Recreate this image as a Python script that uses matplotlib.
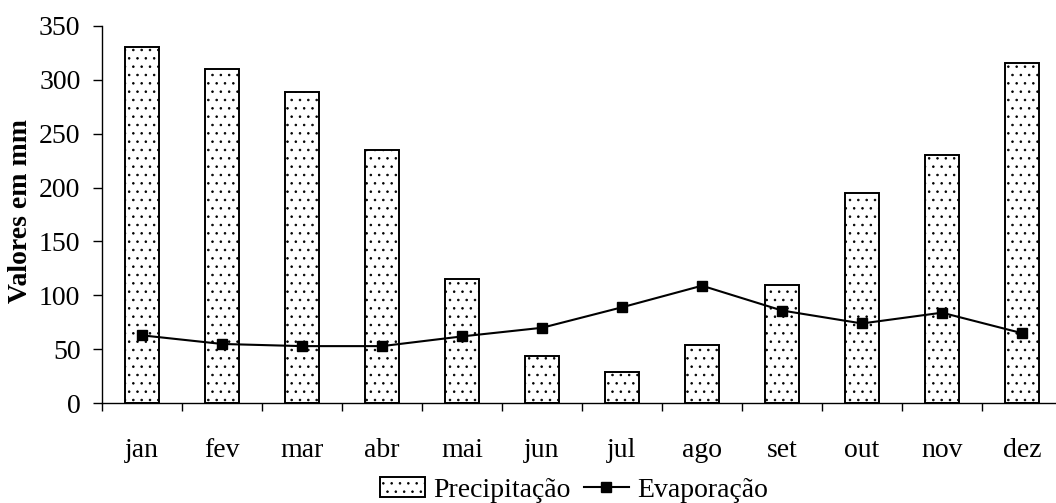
import matplotlib
matplotlib.use("Agg")
import matplotlib.pyplot as plt
import numpy as np

months = ["jan", "fev", "mar", "abr", "mai", "jun", "jul", "ago", "set", "out", "nov", "dez"]
precipitacao = [330, 310, 289, 235, 115, 44, 29, 54, 110, 195, 230, 315]
evaporacao = [63, 55, 53, 53, 62, 70, 89, 109, 86, 74, 84, 65]
yticks = [0, 50, 100, 150, 200, 250, 300, 350]

plt.rcParams['font.family'] = ['Liberation Serif', 'DejaVu Serif']
plt.rcParams['hatch.linewidth'] = 0.6
plt.rcParams['hatch.color'] = '#555555'

fig = plt.figure(figsize=(10.56, 5.03), dpi=100)
W, H = 1056, 503
left, right, top, bottom = 102, 1062, 25.7, 403.3
ax = fig.add_axes([left / W, 1 - bottom / H, (right - left) / W, (bottom - top) / H])

x = np.arange(len(months))
bars = ax.bar(x, precipitacao, width=0.42, color='white', edgecolor='black', linewidth=1.4,
              hatch='..', label='Precipitação', zorder=2)
line, = ax.plot(x, evaporacao, color='black', linewidth=1.5, marker='s', markersize=7,
                label='Evaporação', zorder=3)

ax.set_xlim(-0.5, 11.5)
ax.set_ylim(0, 350)
ax.set_yticks(yticks)
ax.tick_params(axis='y', direction='out', length=6.5, width=1, pad=9, labelsize=20)

ax.set_xticks(np.arange(-0.5, 12, 1))
ax.set_xticklabels([])
ax.tick_params(axis='x', which='major', direction='out', length=6, width=1)
ax.set_xticks(x, minor=True)
ax.set_xticklabels(months, minor=True)
ax.tick_params(axis='x', which='minor', length=0, pad=25, labelsize=20)

for s in ['top', 'right']:
    ax.spines[s].set_visible(False)
for s in ['left', 'bottom']:
    ax.spines[s].set_linewidth(1)

fig.text(21 / W, 1 - 211 / H, 'Valores em mm', rotation=90, fontsize=20,
         fontweight='bold', ha='center', va='center')

fig.legend([bars, line], ['Precipitação', 'Evaporação'], loc='center',
           bbox_to_anchor=(574 / W, 1 - 490 / H), ncol=2, frameon=False,
           fontsize=20, handlelength=1.6, handletextpad=0.3, columnspacing=0.5,
           borderpad=0, borderaxespad=0)

fig.savefig('out.png', dpi=100)
